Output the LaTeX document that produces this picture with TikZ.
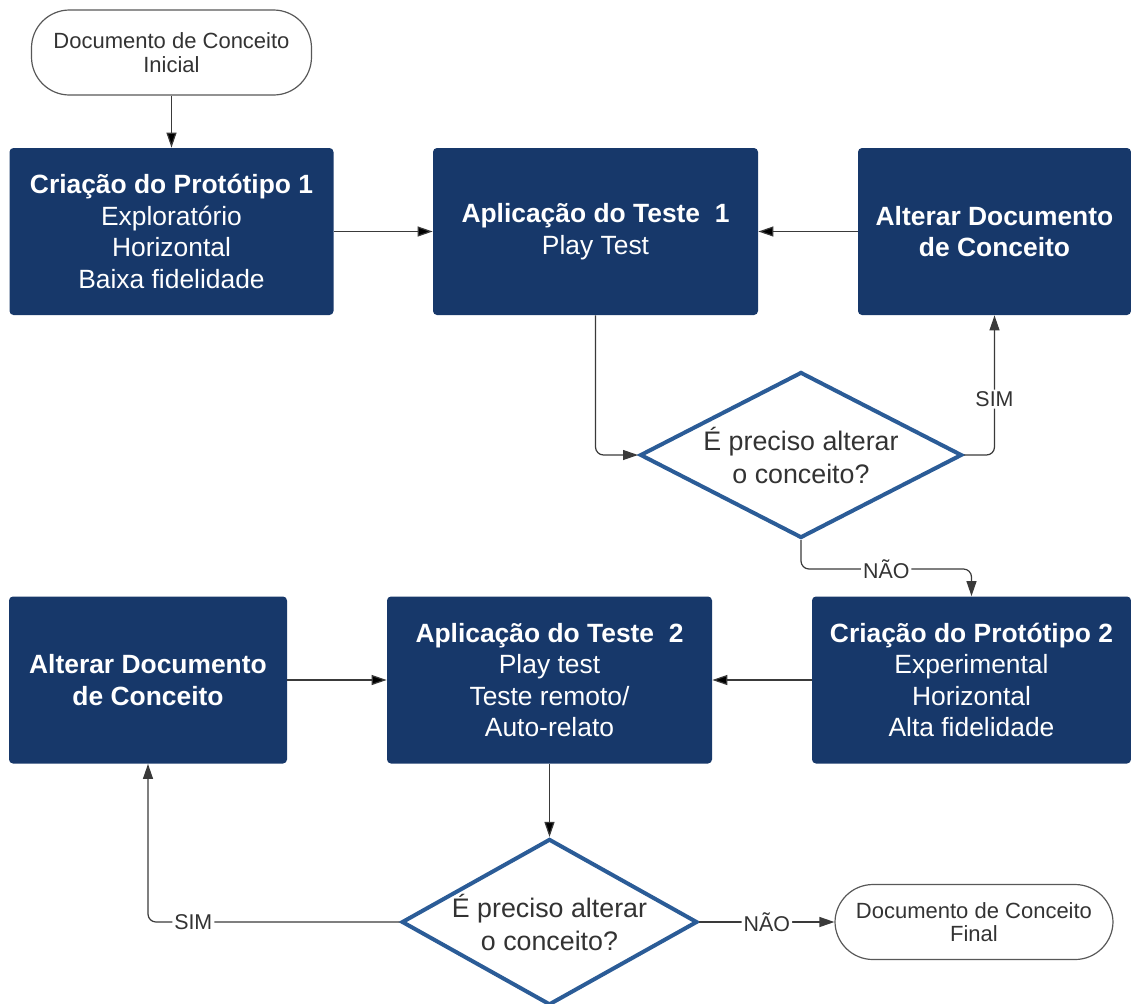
\documentclass[tikz,border=0pt]{standalone}
\usepackage{fontspec}
\setmainfont{Liberation Sans}
\usetikzlibrary{shapes.geometric,arrows.meta}

\definecolor{azulcaixa}{HTML}{17386A}
\definecolor{azullosango}{HTML}{2B5C97}
\definecolor{cinzalinha}{HTML}{3A3A3A}
\definecolor{cinzatexto}{HTML}{333333}

\tikzset{
    caixa/.style={rectangle, rounded corners=2pt, fill=azulcaixa, text=white, align=center,
        inner sep=0pt, minimum height=83.5pt, font=\fontsize{13.2}{15.8}\selectfont},
    losango/.style={diamond, draw=azullosango, line width=2pt, fill=white, text=cinzatexto,
        align=center, inner sep=0pt, minimum height=83pt, font=\fontsize{13.4}{16.5}\selectfont},
    terminal/.style={rectangle, rounded corners=19pt, draw=cinzalinha!85, line width=0.6pt,
        text=cinzatexto, align=center, font=\fontsize{11}{11.8}\selectfont},
    seta/.style={-{Triangle[length=7.5pt,width=5pt]}, draw=cinzalinha, line width=0.6pt,
        rounded corners=4pt},
    rotulo/.style={fill=white, text=cinzatexto, inner sep=1pt, font=\fontsize{10.7}{12}\selectfont}
}

\begin{document}
\begin{tikzpicture}[x=0.5pt, y=-0.5pt]
        \useasboundingbox (0,0) rectangle (1131,1003);

        \node[terminal, minimum width=140pt, minimum height=42.5pt] at (171.5, 52.5)(ini){Documento de Conceito\\Inicial};
        \node[caixa, minimum width=162pt] at (171.5, 231.5)(prot1){\textbf{Criação do Protótipo 1}\\Exploratório\\Horizontal\\Baixa fidelidade};
        \node[caixa, minimum width=162.5pt] at (595.5, 231.5)(teste1){\textbf{Aplicação do Teste~ 1}\\Play Test};
        \node[caixa, minimum width=136.5pt] at (994.5, 231.5)(alt1){\textbf{Alterar Documento}\\\textbf{de Conceito}};
        \node[losango, shape aspect=1.94, minimum width=161pt] at (801, 455)(dec1){É preciso alterar\\o conceito?};

        \node[caixa, minimum width=139pt] at (148, 680)(alt2){\textbf{Alterar Documento}\\\textbf{de Conceito}};
        \node[caixa, minimum width=162.5pt] at (549.5, 680)(teste2){\textbf{Aplicação do Teste~ 2}\\Play test\\Teste remoto/\\Auto-relato};
        \node[caixa, minimum width=159.5pt] at (971.5, 680)(prot2){\textbf{Criação do Protótipo 2}\\Experimental\\Horizontal\\Alta fidelidade};
        \node[losango, shape aspect=1.78, minimum width=147.5pt] at (549.5, 922)(dec2){É preciso alterar\\o conceito?};
        \node[terminal, minimum width=139pt, minimum height=37.5pt] at (974, 922)(fim){Documento de Conceito\\Final};

        \path[seta]
            (ini)edge(prot1)
            (prot1)edge(teste1)
            (alt1)edge(teste1)
            (prot2)edge(teste2)
            (alt2)edge(teste2)
            (teste2)edge(dec2)
            ;
        \draw[seta] (teste1.south) |- (dec1.west);
        \draw[seta] (dec1.east) -| node[rotulo, pos=0.7]{SIM} (alt1.south);
        \draw[seta] (dec1.south) -- ++(0,29) -| node[rotulo, pos=0.25]{NÃO} (prot2.north);
        \draw[seta] (dec2.west) -| node[rotulo, pos=0.41]{SIM} (alt2.south);
        \draw[seta] (dec2) -- node[rotulo]{NÃO} (fim);
    \end{tikzpicture}
\end{document}
